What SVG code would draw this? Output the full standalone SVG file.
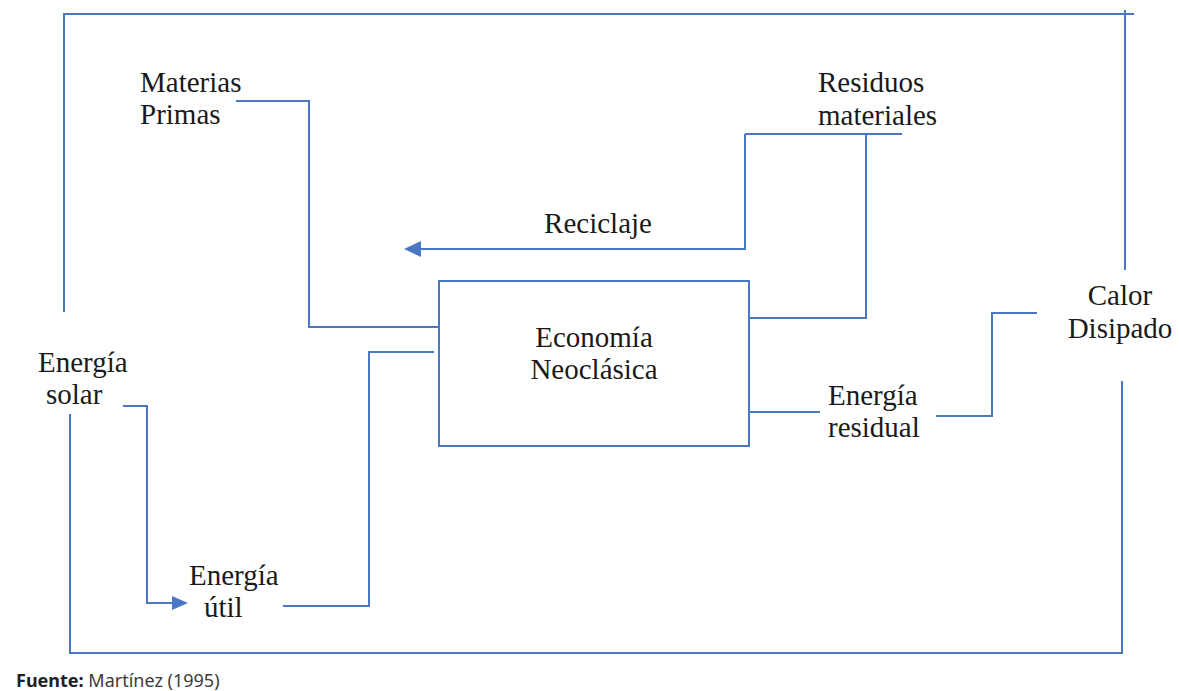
<svg xmlns="http://www.w3.org/2000/svg" width="1179" height="691" viewBox="0 0 1179 691">
  <defs>
    <style>
      .lbl { font-size: 29px; fill: #1a1a1a; }
      .ln { fill: none; stroke: #4a78c4; stroke-width: 2; }
      .src { font-size: 18px; fill: #3a3a3a; }
    </style>
  </defs>
  <rect width="1179" height="691" fill="#fff"/>

  <g id="connectors">
    <!-- outer loop, top -->
    <path class="ln" d="M64,312 V14 H1134"/>
    <path class="ln" d="M1125,10 V270"/>
    <!-- outer loop, bottom -->
    <path class="ln" d="M70,414 V653 H1122 V381"/>
    <!-- materias primas into the economy -->
    <path class="ln" d="M236,101 H309 V327 H442"/>
    <!-- useful energy into the economy -->
    <path class="ln" d="M283,606 H369 V352 H434"/>
    <!-- solar to useful energy -->
    <path class="ln" d="M123,406 H147 V603 H172"/>
    <path d="M172,596 L188,603 L172,610 z" fill="#4a78c4"/>
    <!-- material waste out of the economy -->
    <path class="ln" d="M749,318 H866 V134"/>
    <path class="ln" d="M745,134 H902"/>
    <!-- recycling -->
    <path class="ln" d="M745,134 V249 H420"/>
    <path d="M421,241 L404,249 L421,257 z" fill="#4a78c4"/>
    <!-- residual energy to dissipated heat -->
    <path class="ln" d="M749,412 H820"/>
    <path class="ln" d="M936,416 H992 V313 H1037"/>
  </g>

  <g id="economia">
    <rect x="439" y="281" width="310" height="165" fill="#fff" stroke="#4a78c4" stroke-width="2"/>
    <text class="lbl" x="594" y="347" text-anchor="middle" font-family="Liberation Serif, serif">Economía</text>
    <text class="lbl" x="594" y="379" text-anchor="middle" font-family="Liberation Serif, serif">Neoclásica</text>
  </g>

  <g id="materias-primas">
    <text class="lbl" x="140" y="92" font-family="Liberation Serif, serif">Materias</text>
    <text class="lbl" x="140" y="124" font-family="Liberation Serif, serif">Primas</text>
  </g>

  <g id="residuos">
    <text class="lbl" x="818" y="92" font-family="Liberation Serif, serif">Residuos</text>
    <text class="lbl" x="818" y="125" font-family="Liberation Serif, serif">materiales</text>
  </g>

  <g id="reciclaje">
    <text class="lbl" x="598" y="233" text-anchor="middle" font-family="Liberation Serif, serif">Reciclaje</text>
  </g>

  <g id="calor">
    <text class="lbl" x="1120" y="305" text-anchor="middle" font-family="Liberation Serif, serif">Calor</text>
    <text class="lbl" x="1120" y="338" text-anchor="middle" font-family="Liberation Serif, serif">Disipado</text>
  </g>

  <g id="energia-residual">
    <text class="lbl" x="828" y="405" font-family="Liberation Serif, serif">Energía</text>
    <text class="lbl" x="828" y="437" font-family="Liberation Serif, serif">residual</text>
  </g>

  <g id="energia-solar">
    <text class="lbl" x="38" y="372" font-family="Liberation Serif, serif">Energía</text>
    <text class="lbl" x="46" y="404" font-family="Liberation Serif, serif">solar</text>
  </g>

  <g id="energia-util">
    <text class="lbl" x="189" y="585" font-family="Liberation Serif, serif">Energía</text>
    <text class="lbl" x="204" y="617" font-family="Liberation Serif, serif">útil</text>
  </g>

  <text class="src" x="16" y="687" font-family="Noto Sans, sans-serif"><tspan font-weight="bold" fill="#222">Fuente:</tspan> Martínez (1995)</text>
</svg>
